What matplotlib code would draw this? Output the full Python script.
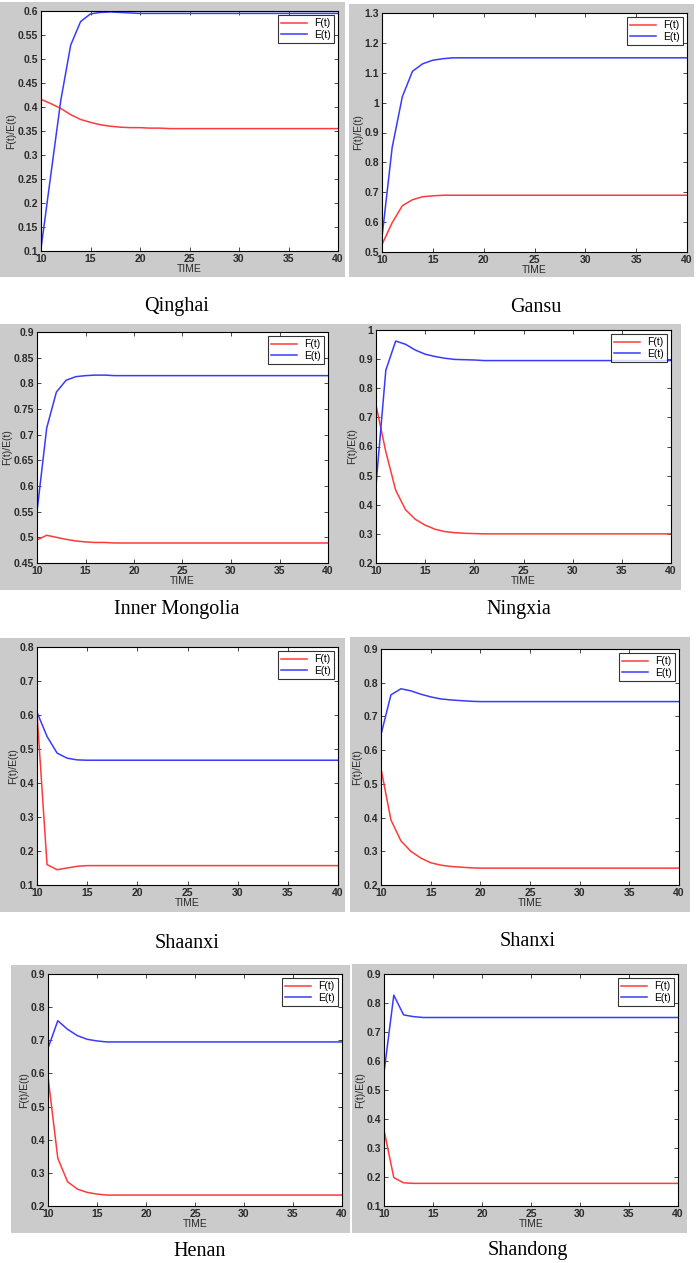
import matplotlib
matplotlib.use('Agg')
import matplotlib.pyplot as plt
from matplotlib.patches import Rectangle
from matplotlib.ticker import FuncFormatter

W, H = 699, 1263

# time axis: 10..40, values read at each integer step (flat after the listed ones)
t = list(range(10, 41))

def pad(vals):
    return vals + [vals[-1]] * (len(t) - len(vals))

provinces = ['Qinghai', 'Gansu', 'Inner Mongolia', 'Ningxia',
             'Shaanxi', 'Shanxi', 'Henan', 'Shandong']

F_qinghai = pad([0.416, 0.407, 0.397, 0.384, 0.374, 0.368, 0.363, 0.360, 0.358, 0.357, 0.357, 0.356, 0.356, 0.355])
E_qinghai = pad([0.105, 0.26, 0.414, 0.529, 0.578, 0.594, 0.597, 0.598, 0.597, 0.596, 0.595])

F_gansu = pad([0.525, 0.598, 0.655, 0.675, 0.685, 0.688, 0.690])
E_gansu = pad([0.55, 0.85, 1.02, 1.105, 1.13, 1.142, 1.147, 1.15])

F_inner = pad([0.495, 0.504, 0.500, 0.496, 0.493, 0.491, 0.490, 0.490, 0.489])
E_inner = pad([0.55, 0.713, 0.783, 0.806, 0.813, 0.815, 0.816, 0.816, 0.815])

F_ningxia = pad([0.742, 0.582, 0.450, 0.383, 0.350, 0.330, 0.316, 0.308, 0.304, 0.302, 0.301, 0.300])
E_ningxia = pad([0.467, 0.862, 0.962, 0.951, 0.931, 0.917, 0.909, 0.903, 0.899, 0.898, 0.897, 0.895])

F_shaanxi = pad([0.605, 0.160, 0.145, 0.150, 0.155, 0.157])
E_shaanxi = pad([0.608, 0.537, 0.488, 0.473, 0.468, 0.467])

F_shanxi = pad([0.545, 0.393, 0.331, 0.300, 0.280, 0.266, 0.259, 0.255, 0.253, 0.251, 0.250])
E_shanxi = pad([0.646, 0.764, 0.782, 0.776, 0.766, 0.758, 0.752, 0.749, 0.747, 0.745, 0.744])

F_henan = pad([0.590, 0.344, 0.273, 0.251, 0.241, 0.236, 0.233])
E_henan = pad([0.676, 0.759, 0.733, 0.714, 0.703, 0.698, 0.695])

F_shandong = pad([0.362, 0.198, 0.180, 0.178])
E_shandong = pad([0.560, 0.827, 0.759, 0.753, 0.750])

F_all = [F_qinghai, F_gansu, F_inner, F_ningxia, F_shaanxi, F_shanxi, F_henan, F_shandong]
E_all = [E_qinghai, E_gansu, E_inner, E_ningxia, E_shaanxi, E_shanxi, E_henan, E_shandong]

ylims = [(0.1, 0.6), (0.5, 1.3), (0.45, 0.9), (0.2, 1.0),
         (0.1, 0.8), (0.2, 0.9), (0.2, 0.9), (0.1, 0.9)]
ysteps = [0.05, 0.1, 0.05, 0.1, 0.1, 0.1, 0.1, 0.1]

# pixel boxes: gray frame, axes, caption centre
grays = [(0, 2, 345, 277), (349, 4, 694, 277),
         (0, 324, 337, 590), (337, 324, 681, 590),
         (0, 638, 345, 912), (350, 637, 690, 912),
         (11, 965, 350, 1233), (352, 964, 687, 1233)]
axboxes = [(41, 11, 338, 251), (382, 13, 687, 252),
           (37, 332, 328, 563), (376, 330, 671, 563),
           (37, 647, 338, 885), (381, 649, 679, 885),
           (48, 974, 342, 1206), (384, 974, 678, 1206)]
captions = [(177, 306), (536, 307), (177, 609), (519, 609),
            (187, 943), (528, 942), (200, 1252), (528, 1251)]

plt.rcParams['font.family'] = ['Liberation Sans', 'DejaVu Sans']

fig = plt.figure(figsize=(W / 100, H / 100), dpi=100)
fig.patch.set_facecolor('white')

def fbox(l, tp, r, b):
    return [l / W, 1 - b / H, (r - l) / W, (b - tp) / H]

for i in range(8):
    gl, gt, gr, gb = grays[i]
    fig.patches.append(Rectangle((gl / W, 1 - gb / H), (gr - gl) / W, (gb - gt) / H,
                                 transform=fig.transFigure, facecolor='#cbcbcb',
                                 edgecolor='none', zorder=-10))
    ax = fig.add_axes(fbox(*axboxes[i]))
    ax.set_zorder(5)
    ax.plot(t, F_all[i], color='#ff3a3a', lw=1.1, label='F(t)')
    ax.plot(t, E_all[i], color='#3a3aff', lw=1.1, label='E(t)')
    lo, hi = ylims[i]
    ax.set_xlim(10, 40)
    ax.set_ylim(lo, hi)
    ax.set_xticks(range(10, 41, 5))
    n = int(round((hi - lo) / ysteps[i]))
    ax.set_yticks([lo + k * ysteps[i] for k in range(n + 1)])
    ax.yaxis.set_major_formatter(FuncFormatter(lambda v, p: '%g' % round(v, 3)))
    ax.tick_params(direction='in', top=True, right=True, length=3, width=0.6,
                   labelsize=7.5, colors='#2a2a2a')
    ax.tick_params(axis='x', pad=2.5)
    ax.tick_params(axis='y', pad=2)
    for lab in ax.get_xticklabels() + ax.get_yticklabels():
        lab.set_fontweight('bold')
    for s in ax.spines.values():
        s.set_linewidth(0.8)
    ax.set_xlabel('TIME', fontsize=7.5, color='#2a2a2a', labelpad=0)
    ax.set_ylabel('F(t)/E(t)', fontsize=7.5, color='#2a2a2a', labelpad=1)
    leg = ax.legend(loc='upper right', fontsize=7.5, frameon=True, fancybox=False,
                    borderaxespad=0.4, handlelength=2.5, handletextpad=0.7,
                    borderpad=0.3, labelspacing=0.15)
    leg.get_frame().set_edgecolor('black')
    leg.get_frame().set_linewidth(0.8)
    cx, cy = captions[i]
    fig.text(cx / W, 1 - cy / H, provinces[i], ha='center', va='center',
             fontsize=14.5, family='Liberation Serif')

fig.savefig('out.png', dpi=100)
